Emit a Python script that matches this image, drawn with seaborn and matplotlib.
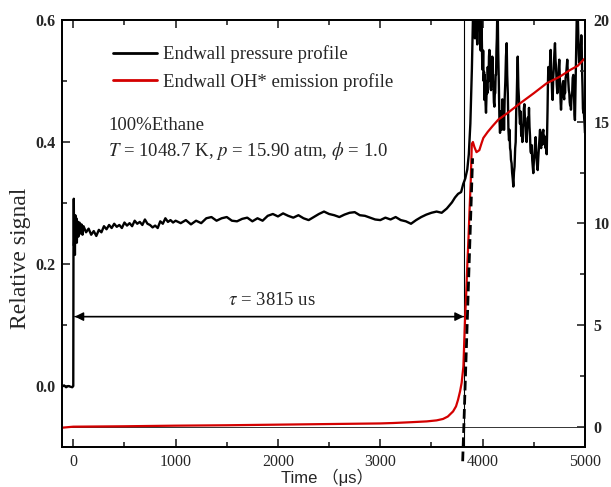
import matplotlib
matplotlib.use('Agg')
import matplotlib.pyplot as plt
import seaborn as sns
import pandas as pd
from matplotlib.ticker import FixedLocator, MultipleLocator, FormatStrFormatter

# ---------------- data ----------------
pressure_time = [
    -110, -90, -70, -50, -30, -10, 0, 2, 5, 8, 12, 16, 20, 25, 30, 35, 40, 50, 60, 70, 80, 90,
    100, 125, 150, 175, 200, 225, 250, 275, 300, 325, 350, 375, 400, 425, 450, 475, 500, 525,
    550, 575, 600, 625, 650, 675, 700, 725, 750, 775, 800, 825, 850, 875, 900, 925, 950, 975,
    1000, 1050, 1100, 1150, 1200, 1250, 1300, 1350, 1400, 1450, 1500, 1550, 1600, 1650, 1700,
    1750, 1800, 1850, 1900, 1950, 2000, 2050, 2100, 2150, 2200, 2250, 2300, 2350, 2400, 2450,
    2500, 2550, 2600, 2650, 2700, 2750, 2800, 2850, 2900, 2950, 3000, 3050, 3100, 3150, 3200,
    3250, 3300, 3350, 3400, 3450, 3500, 3550, 3600, 3650, 3700, 3730, 3760, 3790, 3810, 3830,
    3850, 3865, 3880, 3895,
    3900, 3905, 3910, 3915, 3920, 3925, 3930, 3936, 3941, 3947, 3952, 3958, 3964, 3970, 3975,
    3981, 3986, 3991, 3996, 4001, 4005, 4010, 4014, 4017, 4021, 4025, 4029, 4033, 4038, 4042,
    4046, 4050, 4054, 4058, 4062, 4066, 4070, 4074, 4078, 4082, 4086, 4090, 4094, 4098, 4102,
    4106, 4110, 4115, 4119, 4123, 4127, 4131, 4135, 4139, 4143, 4147, 4152, 4158, 4164, 4170,
    4176, 4182, 4187, 4193, 4197, 4201, 4205, 4209, 4215, 4222, 4228, 4235, 4240, 4246, 4252,
    4258, 4263, 4268, 4273, 4277, 4283, 4288, 4294, 4300, 4306, 4312, 4318, 4323, 4328, 4333,
    4338, 4343, 4349, 4355, 4360, 4365, 4371, 4377, 4382, 4388, 4393, 4398, 4403, 4408, 4414,
    4420, 4425, 4430, 4436, 4442, 4447, 4453, 4458, 4463, 4468, 4473, 4479, 4485, 4490, 4495,
    4501, 4507, 4512, 4518, 4523, 4528, 4533, 4538, 4544, 4550, 4555, 4561, 4566, 4572, 4577,
    4583, 4588, 4593, 4598, 4603, 4609, 4615, 4620, 4626, 4630, 4634, 4638, 4642, 4648, 4654,
    4660, 4665, 4670, 4675, 4680, 4684, 4690, 4695, 4701, 4707, 4712, 4718, 4724, 4730, 4735,
    4740, 4745, 4749, 4754, 4758, 4762, 4766, 4772, 4777, 4782, 4788, 4792, 4797, 4801, 4805,
    4811, 4816, 4822, 4827, 4832, 4837, 4842, 4847, 4851, 4855, 4859, 4863, 4869, 4875, 4880,
    4886, 4890, 4894, 4898, 4902, 4906, 4910, 4915, 4919, 4923, 4927, 4931, 4935, 4939, 4943,
    4947, 4951, 4955, 4960, 4964, 4968, 4972, 4976, 4980, 4984, 4988, 4992, 4996, 5000]
pressure_signal = [
    -0.001, 0.001, -0.002, 0.000, -0.001, -0.002, 0.000, 0.220, 0.307, 0.230, 0.272, 0.215,
    0.280, 0.240, 0.275, 0.235, 0.270, 0.245, 0.268, 0.250, 0.265, 0.248,
    0.262, 0.252, 0.258, 0.248, 0.254, 0.246, 0.256, 0.252, 0.262, 0.257, 0.264, 0.259, 0.266,
    0.261, 0.264, 0.259, 0.268, 0.263, 0.267, 0.262, 0.271, 0.266, 0.269, 0.264, 0.273, 0.266,
    0.264, 0.260, 0.263, 0.259, 0.270, 0.266, 0.275, 0.269, 0.272, 0.268,
    0.271, 0.267, 0.272, 0.265, 0.271, 0.267, 0.275, 0.277, 0.271, 0.275, 0.277, 0.271, 0.270,
    0.274, 0.276, 0.270, 0.275, 0.271, 0.279, 0.282, 0.278, 0.283, 0.279, 0.276, 0.280, 0.275,
    0.272, 0.277, 0.282, 0.286, 0.282, 0.280, 0.277, 0.281, 0.284, 0.285, 0.280, 0.279, 0.276,
    0.273, 0.272, 0.276, 0.273, 0.277, 0.272, 0.270, 0.266, 0.272, 0.277, 0.281, 0.284, 0.286,
    0.284, 0.291, 0.301, 0.309, 0.315, 0.318, 0.331, 0.340, 0.355, 0.380, 0.430, 0.520,
    0.560, 0.600, 0.640, 0.660, 0.600, 0.570, 0.630, 0.640, 0.590, 0.560, 0.620, 0.660, 0.620,
    0.600, 0.560, 0.550, 0.600, 0.580, 0.530, 0.518, 0.550, 0.500, 0.515, 0.469, 0.510, 0.490,
    0.462, 0.448, 0.480, 0.500, 0.480, 0.523, 0.500, 0.500, 0.540, 0.551, 0.530, 0.520, 0.490,
    0.485, 0.515, 0.510, 0.540, 0.535, 0.500, 0.490, 0.465, 0.458, 0.480, 0.480, 0.510, 0.510,
    0.550, 0.570, 0.610, 0.620, 0.550, 0.500, 0.440, 0.415, 0.450, 0.450, 0.420, 0.470, 0.440,
    0.440, 0.460, 0.420, 0.470, 0.500, 0.540, 0.562, 0.510, 0.480, 0.420, 0.403, 0.420, 0.390,
    0.385, 0.371, 0.365, 0.350, 0.340, 0.327, 0.350, 0.360, 0.390, 0.400, 0.450, 0.470, 0.510,
    0.540, 0.490, 0.470, 0.445, 0.430, 0.450, 0.410, 0.425, 0.400, 0.425, 0.430, 0.455, 0.462,
    0.435, 0.420, 0.405, 0.400, 0.425, 0.440, 0.425, 0.456, 0.425, 0.410, 0.385, 0.382, 0.395,
    0.370, 0.360, 0.349, 0.370, 0.380, 0.395, 0.408, 0.385, 0.370, 0.360, 0.354, 0.375, 0.390,
    0.405, 0.420, 0.395, 0.390, 0.415, 0.396, 0.415, 0.420, 0.398, 0.410, 0.395, 0.390, 0.405,
    0.380, 0.415, 0.450, 0.495, 0.523, 0.505, 0.500, 0.535, 0.551, 0.515, 0.500, 0.475, 0.469,
    0.505, 0.520, 0.545, 0.562, 0.535, 0.520, 0.495, 0.480, 0.495, 0.500, 0.525, 0.535, 0.505,
    0.490, 0.465, 0.453, 0.475, 0.480, 0.495, 0.500, 0.475, 0.470, 0.495, 0.480, 0.505, 0.510,
    0.525, 0.535, 0.515, 0.500, 0.485, 0.480, 0.465, 0.460, 0.475, 0.453, 0.475, 0.480, 0.505,
    0.510, 0.485, 0.470, 0.445, 0.436, 0.475, 0.520, 0.565, 0.600, 0.635, 0.620, 0.600, 0.570,
    0.545, 0.530, 0.545, 0.535, 0.555, 0.560, 0.575, 0.560, 0.515, 0.490, 0.455, 0.448, 0.455,
    0.440, 0.430, 0.415]

oh_time = [-110, 0, 500, 1000, 1500, 2000, 2500, 3000, 3125, 3300, 3454, 3550, 3613, 3660,
           3711, 3740, 3760, 3780, 3795, 3812, 3828, 3840, 3851, 3862, 3871, 3884, 3894, 3905,
           3920, 3940, 3968, 3990, 4007, 4050, 4100, 4153, 4250, 4365, 4500, 4626, 4750, 4854,
           4930, 4990, 5000]
oh_signal = [-0.05, 0.0, 0.02, 0.05, 0.07, 0.10, 0.13, 0.16, 0.18, 0.22, 0.26, 0.31, 0.38,
             0.50, 0.75, 1.00, 1.33, 1.75, 2.16, 2.96, 5.26, 6.60, 8.04, 9.30, 10.5, 12.1,
             13.9, 14.0, 13.75, 13.5, 13.6, 13.95, 14.2, 14.5, 14.8, 15.1, 15.45, 15.9, 16.4,
             16.89, 17.2, 17.54, 17.75, 18.07, 18.1]

tau_us = 3815
tangent_time = [3805, 3902]
tangent_signal = [-1.7, 13.2]
arrow_level = 0.1138
legend_labels = ["Endwall pressure profile", "Endwall OH* emission profile"]
x_ticks = [0, 1000, 2000, 3000, 4000, 5000]
left_ticks = [0.0, 0.2, 0.4, 0.6]
right_ticks = [0, 5, 10, 15, 20]

# ---------------- style ----------------
sns.set_style('ticks')
plt.rcParams['font.family'] = ['Liberation Serif', 'DejaVu Serif']
plt.rcParams['mathtext.fontset'] = 'stix'

fig = plt.figure(figsize=(6.11, 4.87), dpi=100)
ax = fig.add_axes([0.1015, 0.0821, 0.8559, 0.8768])
ax2 = ax.twinx()

pdf = pd.DataFrame({'time': pressure_time, 'signal': pressure_signal})
odf = pd.DataFrame({'time': oh_time, 'signal': oh_signal})

sns.lineplot(data=pdf, x='time', y='signal', ax=ax, color='black', lw=1.7,
             estimator=None, sort=False, legend=False)
sns.lineplot(data=odf, x='time', y='signal', ax=ax2, color='#d40000', lw=1.6,
             estimator=None, sort=False, legend=False)

ax.set_xlim(-110, 5000)
ax.set_ylim(-0.1, 0.6)
ax2.set_ylim(-1, 20)

# reference lines
ax2.axhline(0, color='#333333', lw=0.7, zorder=1)
ax.axvline(tau_us, color='black', lw=0.8)
ax2.plot(tangent_time, tangent_signal, color='black', lw=2.0, ls=(0, (3.5, 1.6)),
         clip_on=False)

# ignition delay arrow
ax.annotate('', xy=(15, arrow_level), xytext=(tau_us, arrow_level),
            arrowprops=dict(arrowstyle='-|>', color='black', lw=1.0, mutation_scale=13,
                            shrinkA=0, shrinkB=0))
ax.annotate('', xy=(tau_us, arrow_level), xytext=(15, arrow_level),
            arrowprops=dict(arrowstyle='-|>', color='black', lw=1.0, mutation_scale=13,
                            shrinkA=0, shrinkB=0))
ax.text(1940, 0.1405, r'$\tau$ = 3815 us', ha='center', va='center', fontsize=13.5)

ax.text(0.088, 0.752, '100%Ethane', transform=ax.transAxes, ha='left', va='center',
        fontsize=13.5)
ax.text(0.088, 0.694, r'$T$ = 1048.7 K, $p$ = 15.90 atm, $\phi$ = 1.0',
        transform=ax.transAxes, ha='left', va='center', fontsize=13.5)

# legend
h1 = ax.lines[0]
h2 = ax2.lines[0]
leg = ax2.legend([h1, h2], legend_labels, loc='upper left', bbox_to_anchor=(0.066, 0.98),
                 frameon=False, fontsize=13.5, handlelength=2.3, handletextpad=0.35,
                 labelspacing=0.5)
for ln in leg.get_lines():
    ln.set_linewidth(2.0)

# ticks
ax.xaxis.set_major_locator(FixedLocator(x_ticks))
ax.xaxis.set_minor_locator(MultipleLocator(500))
ax.yaxis.set_major_locator(FixedLocator(left_ticks))
ax.yaxis.set_minor_locator(MultipleLocator(0.1))
ax.yaxis.set_major_formatter(FormatStrFormatter('%.1f'))
ax2.yaxis.set_major_locator(FixedLocator(right_ticks))
ax2.yaxis.set_minor_locator(MultipleLocator(2.5))

ax.tick_params(axis='x', which='both', direction='in', top=True, bottom=True, width=1.2)
ax.tick_params(axis='x', which='major', length=6, pad=5, labelsize=11.5)
ax.tick_params(axis='x', which='minor', length=3.5)
ax.tick_params(axis='y', which='both', direction='in', left=True, right=False, width=1.2)
ax.tick_params(axis='y', which='major', length=6, pad=5, labelsize=11.5)
ax.tick_params(axis='y', which='minor', length=3.5)
ax2.tick_params(axis='y', which='both', direction='in', right=True, left=False, width=1.2)
ax2.tick_params(axis='y', which='major', length=6, pad=6, labelsize=11.5)
ax2.tick_params(axis='y', which='minor', length=3.5)

for lbl in ax.get_yticklabels() + ax2.get_yticklabels():
    lbl.set_fontweight('bold')

for a in (ax, ax2):
    for sp in a.spines.values():
        sp.set_visible(True)
        sp.set_linewidth(1.3)
        sp.set_color('black')

ax.set_xlabel('Time （μs）', family=['Liberation Sans', 'Noto Sans CJK SC'], fontsize=12)
ax.xaxis.set_label_coords(0.507, -0.0905)
ax.xaxis.label.set_va('bottom')
ax.set_ylabel('Relative signal', fontsize=17)
ax.yaxis.set_label_coords(-0.080, 0.443)
ax.yaxis.label.set_va('center')
ax2.set_ylabel('')

fig.savefig('out.png', dpi=100)
